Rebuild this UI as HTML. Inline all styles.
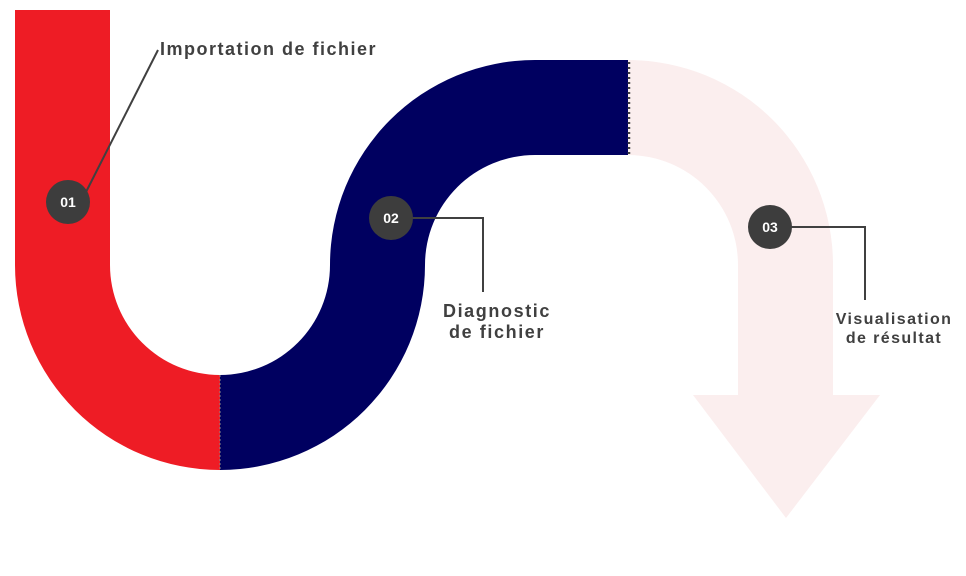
<!DOCTYPE html>
<html><head><meta charset="utf-8"><style>
html,body{margin:0;padding:0;background:#fff;}
svg{display:block;}
text{font-family:"Liberation Sans",sans-serif;font-weight:bold;fill:#404040;}
</style></head><body>
<svg width="966" height="576" viewBox="0 0 966 576">
<path fill="#ee1c25" d="M15,10 L110,10 L110,265 A110,110 0 0 0 220,375 L220,470 A205,205 0 0 1 15,265 Z"/>
<path fill="#000060" d="M220,375 A110,110 0 0 0 330,265 A205,205 0 0 1 535,60 L628,60 L628,155 L535,155 A110,110 0 0 0 425,265 A205,205 0 0 1 220,470 Z"/>
<path fill="#fbeeee" d="M628,60 A205,205 0 0 1 833,265 L833,395 L880,395 L786,518 L693,395 L738,395 L738,265 A110,110 0 0 0 628,155 Z"/>
<line x1="220" y1="375" x2="220" y2="470" stroke="#888" stroke-width="1" stroke-dasharray="2,2"/>
<line x1="629" y1="62" x2="629" y2="155" stroke="#444" stroke-width="2.5" stroke-dasharray="2,3"/>
<line x1="86" y1="192" x2="158" y2="50" stroke="#404040" stroke-width="2"/>
<polyline points="410,218 483,218 483,292" fill="none" stroke="#404040" stroke-width="2"/>
<polyline points="790,227 865,227 865,300" fill="none" stroke="#404040" stroke-width="2"/>
<circle cx="68" cy="202" r="22" fill="#3d3d3d"/>
<circle cx="391" cy="218" r="22" fill="#3d3d3d"/>
<circle cx="770" cy="227" r="22" fill="#3d3d3d"/>
<text x="68" y="207" text-anchor="middle" font-size="14" style="fill:#fff">01</text>
<text x="391" y="223" text-anchor="middle" font-size="14" style="fill:#fff">02</text>
<text x="770" y="232" text-anchor="middle" font-size="14" style="fill:#fff">03</text>
<text x="160" y="55" font-size="18" letter-spacing="1.5">Importation de fichier</text>
<text x="497" y="317" text-anchor="middle" font-size="18" letter-spacing="1.6">Diagnostic</text>
<text x="497" y="338" text-anchor="middle" font-size="18" letter-spacing="1.6">de fichier</text>
<text x="894" y="324" text-anchor="middle" font-size="16" letter-spacing="1.4">Visualisation</text>
<text x="894" y="343" text-anchor="middle" font-size="16" letter-spacing="1.4">de résultat</text>
</svg>
</body></html>
